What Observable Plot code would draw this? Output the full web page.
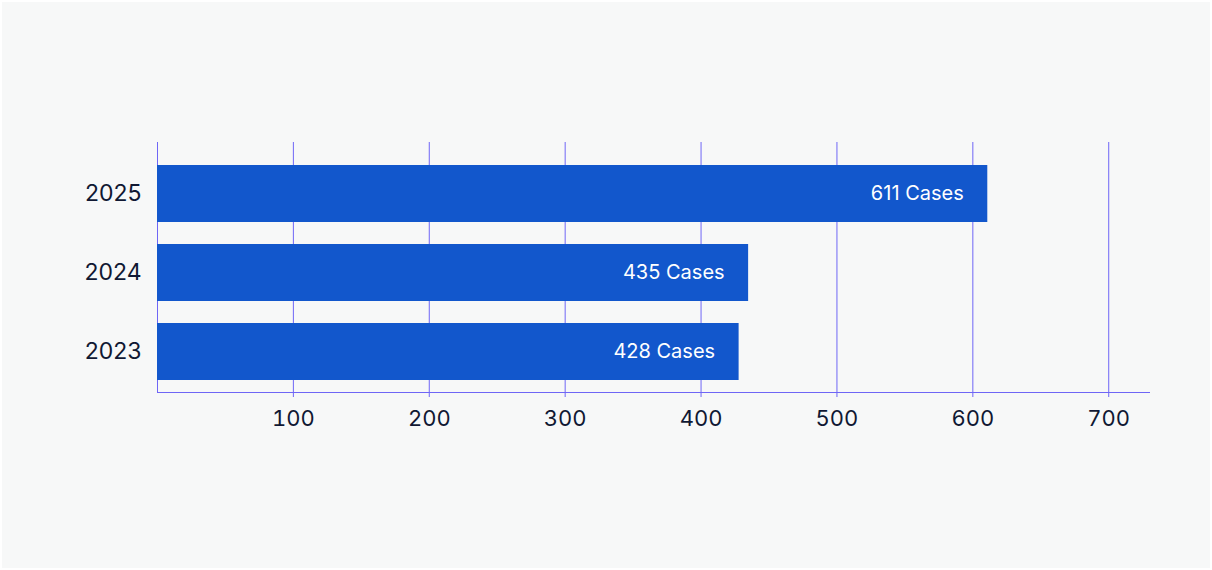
<!DOCTYPE html>
<html>
<head>
<meta charset="utf-8">
<script src="https://cdn.jsdelivr.net/npm/d3@7"></script>
<script src="https://cdn.jsdelivr.net/npm/@observablehq/plot@0.6"></script>
<style>
  html, body { margin: 0; padding: 0; background: #ffffff; }
  #chart { position: absolute; left: 2px; top: 2px; width: 1208px; height: 566px; background: #f7f8f8; }
  #chart svg { display: block; background: transparent; }
</style>
</head>
<body>
<div id="chart"></div>
<script>
// Reported cases per year
const years = ["2025", "2024", "2023"];
const cases = [611, 435, 428];
const xTicks = [100, 200, 300, 400, 500, 600, 700];

const rows = years.map((year, i) => ({year, cases: cases[i]}));

const gridColor = "#6f66f6";
const barColor = "#1257cc";
const inkColor = "#101833";
const font = "Inter, 'Noto Sans', sans-serif";

const chart = Plot.plot({
  width: 1208,
  height: 566,
  marginLeft: 155,
  marginRight: 61,
  marginTop: 151,
  marginBottom: 176,
  style: {fontFamily: font, background: "transparent", color: inkColor},
  x: {domain: [0, 730], ticks: xTicks},
  y: {domain: years, paddingInner: 0.28, paddingOuter: 0.15},
  marks: [
    // vertical grid, running a little above the bars and down past the baseline as ticks
    Plot.gridX(xTicks, {stroke: gridColor, strokeOpacity: 1, insetTop: -11, insetBottom: -5}),
    Plot.ruleX([0], {stroke: gridColor, insetTop: -11}),
    Plot.frame({anchor: "bottom", stroke: gridColor}),
    Plot.barX(rows, {x: "cases", y: "year", fill: barColor}),
    Plot.text(rows, {
      x: "cases", y: "year",
      text: d => `${d.cases} Cases`,
      textAnchor: "end", dx: -24,
      fill: "white", fontSize: 20
    }),
    Plot.axisY({tickSize: 0, tickPadding: 16, fontSize: 23, label: null, fill: inkColor}),
    Plot.axisX({ticks: xTicks, tickSize: 0, tickPadding: 18, fontSize: 22, label: null, fill: inkColor})
  ]
});

document.getElementById("chart").appendChild(chart);
</script>
</body>
</html>
